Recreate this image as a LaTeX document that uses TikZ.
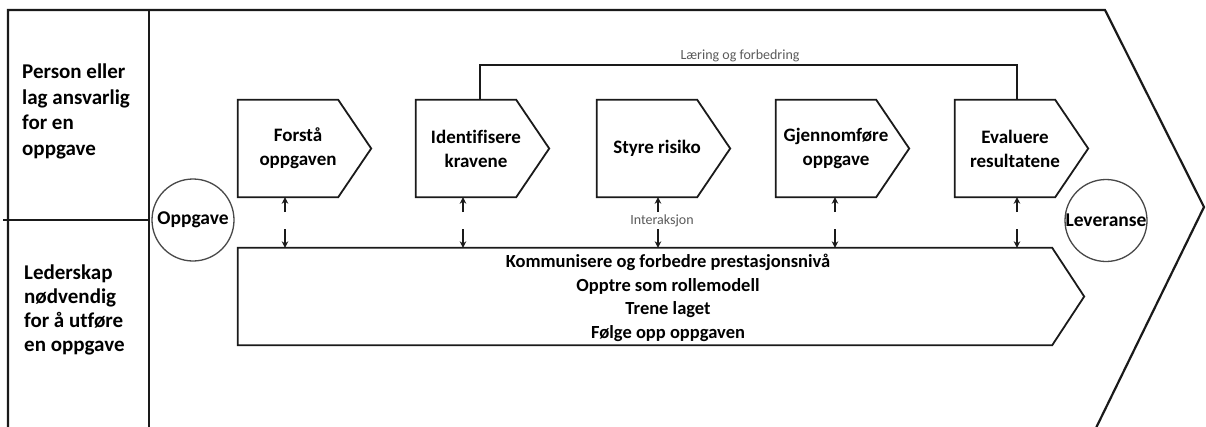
\documentclass[tikz,border=0pt]{standalone}
\usepackage{fontspec}
\setmainfont{Carlito}[Ligatures=NoCommon]
\usetikzlibrary{arrows.meta}

\definecolor{ink}{HTML}{1A1A1A}
\definecolor{soft}{HTML}{5A5A5A}

\tikzset{
  frameline/.style={draw=ink, line width=2.2pt, line join=miter},
  outline/.style={draw=ink, line width=1.8pt, line join=miter},
  stepbox/.style={minimum width=120pt, minimum height=97pt, inner sep=0pt,
    align=center, font=\bfseries\fontsize{19}{24}\selectfont},
  sidetext/.style={anchor=base west, align=left, inner sep=0pt,
    font=\bfseries\fontsize{21}{25.5}\selectfont},
  endpoint/.style={circle, draw=ink!80, line width=1.3pt, minimum size=82pt,
    inner sep=0pt, font=\bfseries\fontsize{19.5}{22}\selectfont},
  smalllbl/.style={text=soft, inner sep=0pt, font=\fontsize{14}{16}\selectfont},
  arr/.style={draw=ink, line width=1.3pt, -{Stealth[length=6.5pt,width=6.5pt]}},
}

\newcommand{\chevronbox}[1]{%
  \draw[outline] (#1.north west) -- ([xshift=-20pt]#1.north east)
    -- ([xshift=13pt]#1.east) -- ([xshift=-20pt]#1.south east)
    -- (#1.south west) -- cycle;}

\begin{document}
\begin{tikzpicture}[x=1pt,y=-1pt]
\useasboundingbox (0,0) rectangle (1206,426);

% outer chevron frame and left column
\draw[frameline] (8,430) -- (8,10) -- (1105,10) -- (1204,207) -- (1095,430);
\draw[draw=ink, line width=1.8pt] (149,10) -- (149,430);
\draw[draw=ink, line width=1.4pt] (3,220) -- (149,220);

% row headings (anchored on the baseline of their last line)
\node[sidetext] (hdtop) at (22,155)
  {Person eller\\lag ansvarlig\\for en\\oppgave};
\node[sidetext, font=\bfseries\fontsize{21}{24}\selectfont] (hdbot) at (24,351)
  {Lederskap\\nødvendig\\for å utføre\\en oppgave};

% task steps
\node[stepbox] (b1) at (298,148.5) {Forstå\\oppgaven};
\node[stepbox] (b2) at (476,148.5) {Identifisere\\kravene};
\node[stepbox] (b3) at (657,148.5) {Styre risiko};
\node[stepbox] (b4) at (836,148.5) {Gjennomføre\\oppgave};
\node[stepbox] (b5) at (1015,148.5) {Evaluere\\resultatene};
\foreach \b in {b1,b2,b3,b4,b5} {\chevronbox{\b}}

% leadership band
\node[minimum width=814pt, minimum height=97pt, inner sep=0pt] (lead) at (645,296.5) {};
\draw[outline] (lead.north west) -- (lead.north east) -- ([xshift=32pt]lead.east)
  -- (lead.south east) -- (lead.south west) -- cycle;
\node[align=center, inner sep=0pt, font=\bfseries\fontsize{18.5}{23.7}\selectfont]
  (leadtxt) at (668,298)
  {Kommunisere og forbedre prestasjonsnivå\\Opptre som rollemodell\\Trene laget\\Følge opp oppgaven};

% start and end
\node[endpoint] (task) at (193,220) {Oppgave};
\node[endpoint] (deliv) at (1106,220.5) {\makebox[0pt]{Leveranse}};

% feedback loop
\draw[outline, line width=1.6pt] ([xshift=4pt]b2.north) -- ++(0,-35) -| ([xshift=2pt]b5.north);
\node[smalllbl] (fbl) at (740,56) {Læring og forbedring};

% interaction arrows
\foreach \i/\x in {1/285,2/463,3/658,4/835,5/1017} {
  \coordinate (u\i) at (\x,212);
  \coordinate (d\i) at (\x,229);
  \draw[arr] (u\i) -- (u\i |- b\i.south);
  \draw[arr] (d\i) -- (d\i |- lead.north);
}
\node[smalllbl] (ia) at (662,221) {Interaksjon};
\end{tikzpicture}
\end{document}
